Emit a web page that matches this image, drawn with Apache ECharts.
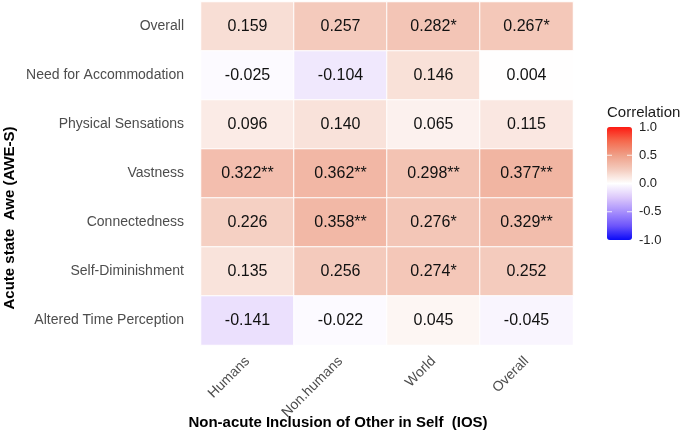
<!DOCTYPE html>
<html>
<head>
<meta charset="utf-8">
<script src="https://cdn.jsdelivr.net/npm/echarts@6/dist/echarts.min.js"></script>
<style>
html,body{margin:0;padding:0;background:#fff;}
#chart{width:685px;height:439px;}
</style>
</head>
<body>
<div id="chart"></div>
<script>
const columns = ['Humans', 'Non.humans', 'World', 'Overall'];
const rows = ['Overall', 'Need for Accommodation', 'Physical Sensations', 'Vastness',
              'Connectedness', 'Self-Diminishment', 'Altered Time Perception'];
const values = [
  [0.159, 0.257, 0.282, 0.267],
  [-0.025, -0.104, 0.146, 0.004],
  [0.096, 0.140, 0.065, 0.115],
  [0.322, 0.362, 0.298, 0.377],
  [0.226, 0.358, 0.276, 0.329],
  [0.135, 0.256, 0.274, 0.252],
  [-0.141, -0.022, 0.045, -0.045]
];
const stars = [
  ['', '', '*', '*'],
  ['', '', '', ''],
  ['', '', '', ''],
  ['**', '**', '**', '**'],
  ['', '**', '*', '**'],
  ['', '', '*', ''],
  ['', '', '', '']
];
const legendTicks = [1.0, 0.5, 0.0, -0.5, -1.0];

const data = [];
rows.forEach((r, i) => columns.forEach((c, j) => {
  data.push({ value: [j, i, values[i][j]], star: stars[i][j] });
}));

const chart = echarts.init(document.getElementById('chart'));
const barTop = 127, barH = 113, barLeft = 607, barW = 25;
const graphics = [
  { type: 'text', left: 607, top: 105, style: { text: 'Correlation', font: '15px "Liberation Sans", Arial, sans-serif', fill: '#1a1a1a' } },
  { type: 'text', x: 10, y: 218, rotation: Math.PI / 2,
    style: { text: 'Acute state  Awe (AWE-S)', font: 'bold 15px "Liberation Sans", Arial, sans-serif', fill: '#000', align: 'center', verticalAlign: 'middle' } },
  { type: 'text', x: 338, y: 423,
    style: { text: 'Non-acute Inclusion of Other in Self  (IOS)', font: 'bold 15px "Liberation Sans", Arial, sans-serif', fill: '#000', align: 'center', verticalAlign: 'middle' } }
];
legendTicks.forEach(v => {
  const y = barTop + (1 - v) / 2 * barH;
  graphics.push({ type: 'text', x: 639, y: y,
    style: { text: v.toFixed(1), font: '13px "Liberation Sans", Arial, sans-serif', fill: '#222', verticalAlign: 'middle' } });
  if (Math.abs(v) < 1) {
    graphics.push({ type: 'line', z: 100, shape: { x1: barLeft, y1: y, x2: barLeft + 5, y2: y }, style: { stroke: '#fff', lineWidth: 1, opacity: 0.8 } });
    graphics.push({ type: 'line', z: 100, shape: { x1: barLeft + barW - 5, y1: y, x2: barLeft + barW, y2: y }, style: { stroke: '#fff', lineWidth: 1, opacity: 0.8 } });
  }
});

chart.setOption({
  animation: false,
  backgroundColor: '#fff',
  grid: { left: 201, right: 112, top: 2, bottom: 94 },
  xAxis: {
    type: 'category', data: columns,
    axisLine: { show: false }, axisTick: { show: false }, splitLine: { show: false },
    axisLabel: { rotate: 45, margin: 14, color: '#4d4d4d', fontSize: 14, fontFamily: '"Liberation Sans", Arial, sans-serif' }
  },
  yAxis: {
    type: 'category', data: rows, inverse: true,
    axisLine: { show: false }, axisTick: { show: false }, splitLine: { show: false },
    axisLabel: { margin: 17, color: '#4d4d4d', fontSize: 14, fontFamily: '"Liberation Sans", Arial, sans-serif' }
  },
  visualMap: {
    type: 'continuous', min: -1, max: 1, dimension: 2,
    calculable: false, hoverLink: false, show: true,
    left: barLeft, top: barTop, itemWidth: barW, itemHeight: barH, padding: 0,
    text: null,
    inRange: { color: ['#0a0af8', '#6d55fb', '#a78ffc', '#dcc8fb', '#ffffff', '#f4cbbd', '#ef9f88', '#f56a4e', '#fd1a12'] }
  },
  graphic: graphics,
  series: [{
    type: 'heatmap',
    data: data,
    itemStyle: { borderColor: '#fff', borderWidth: 1 },
    label: {
      show: true, color: '#111', fontSize: 16, fontFamily: '"Liberation Sans", Arial, sans-serif',
      formatter: p => p.value[2].toFixed(3) + p.data.star
    },
    emphasis: { disabled: true }
  }]
});
</script>
</body>
</html>
